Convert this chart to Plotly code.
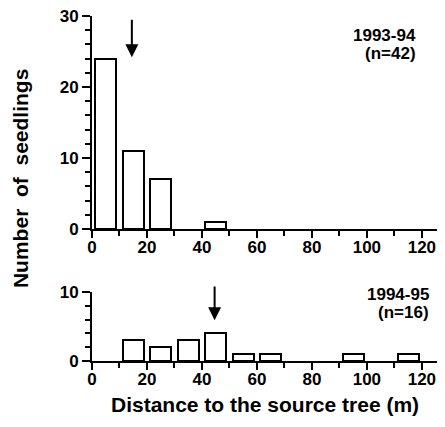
import plotly.graph_objects as go

# Data
bins_9394 = [5, 15, 25, 45]
counts_9394 = [24, 11, 7, 1]
bins_9495 = [15, 25, 35, 45, 55, 65, 95, 115]
counts_9495 = [3, 2, 3, 4, 1, 1, 1, 1]
mean_9394 = 14.5
mean_9495 = 44.6
x_ticks = [0, 20, 40, 60, 80, 100, 120]

FONT = "Arial, Liberation Sans, sans-serif"

fig = go.Figure()
bar_style = dict(marker=dict(color="white", line=dict(color="black", width=2)),
                 width=7.6, showlegend=False, hoverinfo="x+y")
fig.add_trace(go.Bar(x=bins_9394, y=counts_9394, xaxis="x", yaxis="y", **bar_style))
fig.add_trace(go.Bar(x=bins_9495, y=counts_9495, xaxis="x2", yaxis="y2", **bar_style))

tick_font = dict(family=FONT, size=17, color="black", weight="bold")
axis_common = dict(showline=True, linecolor="black", linewidth=2, showgrid=False,
                   zeroline=False, ticks="outside", ticklen=8, tickwidth=2, tickcolor="black",
                   tickfont=tick_font, ticklabeloverflow="allow")
xaxis_common = dict(axis_common, range=[0, 125.5], tickvals=x_ticks, ticklen=7, ticklabelstandoff=-5,
                    minor=dict(dtick=10, tick0=0, ticks="outside", ticklen=5, tickwidth=2, tickcolor="black"))
minor_y = dict(dtick=2, tick0=0, ticks="outside", ticklen=5, tickwidth=2, tickcolor="black")

fig.update_layout(
    width=429, height=411,
    margin=dict(l=84, r=0, t=8, b=58),
    plot_bgcolor="white", paper_bgcolor="white",
    bargap=0,
    xaxis=dict(xaxis_common, anchor="y"),
    yaxis=dict(axis_common, domain=[0.3826, 1], range=[0, 30], tickvals=[0, 10, 20, 30], minor=minor_y),
    xaxis2=dict(xaxis_common, anchor="y2"),
    yaxis2=dict(axis_common, domain=[0, 0.2], range=[0, 10], tickvals=[0, 10], minor=minor_y),
)

ann_font = dict(family=FONT, size=17, color="black", weight="bold")
title_font = dict(family=FONT, size=21, color="black", weight="bold")
arrow_style = dict(showarrow=True, arrowhead=2, arrowsize=1.3, arrowwidth=2, arrowcolor="black",
                   text="", font=dict(size=1))
annotations = [
    dict(x=mean_9394, y=24.2, ax=mean_9394, ay=29.7, xref="x", yref="y", axref="x", ayref="y", **arrow_style),
    dict(x=mean_9495, y=5.9, ax=mean_9495, ay=11.0, xref="x2", yref="y2", axref="x2", ayref="y2", **arrow_style),
    dict(x=118.6, y=27.3, xref="x", yref="y", text="1993-94", showarrow=False,
         xanchor="right", yanchor="middle", font=ann_font),
    dict(x=118.6, y=24.7, xref="x", yref="y", text="(n=42)", showarrow=False,
         xanchor="right", yanchor="middle", font=ann_font),
    dict(x=123.2, y=9.6, xref="x2", yref="y2", text="1994-95", showarrow=False,
         xanchor="right", yanchor="middle", font=ann_font),
    dict(x=123.2, y=7.0, xref="x2", yref="y2", text="(n=16)", showarrow=False,
         xanchor="right", yanchor="middle", font=ann_font),
    dict(x=-0.209, y=0.530, xref="paper", yref="paper", text="Number  of  seedlings",
         showarrow=False, textangle=-90, xanchor="center", yanchor="middle", font=title_font),
    dict(x=0.50, y=-0.1275, xref="paper", yref="paper", text="Distance to the source tree (m)",
         showarrow=False, xanchor="center", yanchor="middle", font=title_font),
]
fig.update_layout(annotations=annotations)

fig.write_html("out.html")
